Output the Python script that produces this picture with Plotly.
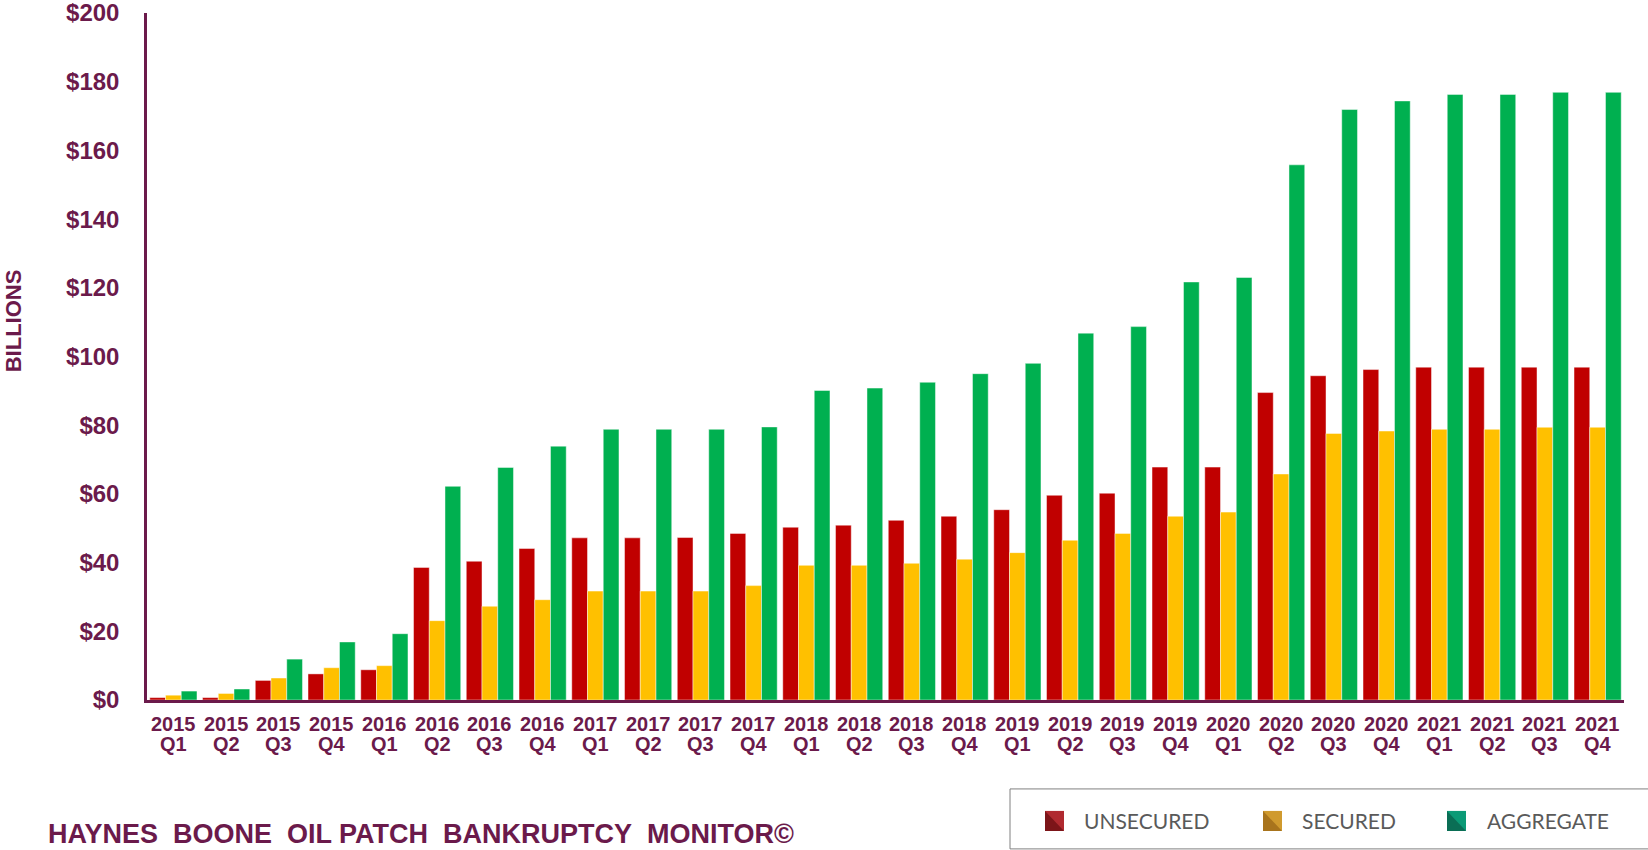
import plotly.graph_objects as go

years = ["2015"] * 4 + ["2016"] * 4 + ["2017"] * 4 + ["2018"] * 4 + ["2019"] * 4 + ["2020"] * 4 + ["2021"] * 4
quarters = ["Q1", "Q2", "Q3", "Q4"] * 7
categories = [f"{y} {q}" for y, q in zip(years, quarters)]

unsecured = [0.7, 0.7, 5.7, 7.6, 8.8, 38.6, 40.4, 44.1, 47.2, 47.2, 47.3, 48.5, 50.3, 50.9,
             52.3, 53.5, 55.4, 59.6, 60.2, 67.8, 67.8, 89.5, 94.4, 96.2, 96.9, 96.9, 96.9, 96.9]
secured = [1.4, 1.9, 6.4, 9.4, 10.0, 23.1, 27.3, 29.2, 31.7, 31.7, 31.7, 33.3, 39.2, 39.2,
           39.8, 41.0, 42.9, 46.5, 48.5, 53.5, 54.7, 65.8, 77.6, 78.3, 78.8, 78.8, 79.4, 79.4]
aggregate = [2.6, 3.2, 11.9, 16.9, 19.3, 62.2, 67.7, 73.9, 78.8, 78.8, 78.8, 79.5, 90.1, 90.8,
             92.5, 95.0, 98.0, 106.8, 108.7, 121.7, 123.0, 155.8, 171.9, 174.4, 176.3, 176.3, 176.9, 176.9]

series_names = ["UNSECURED", "SECURED", "AGGREGATE"]
y_ticks = list(range(0, 201, 20))

PURPLE = "#6b1a4b"
FONT = "Liberation Sans, Arial, sans-serif"
W, H = 1648, 850
L, R, T, B = 147, 24, 12.5, 150
PW, PH = W - L - R, H - T - B


def px(x):
    return (x - L) / PW


def py(y):
    return (H - B - y) / PH


fig = go.Figure()
for name, vals, col in zip(series_names, [unsecured, secured, aggregate],
                           ["#c00000", "#ffc000", "#00b050"]):
    fig.add_trace(go.Bar(
        x=categories, y=vals, name=name,
        marker=dict(color=col, line=dict(color="rgba(255,255,255,0.45)", width=1)),
        showlegend=False,
    ))

shapes = []
annotations = []

# two-line category labels (year / quarter)
for cat, yr, q in zip(categories, years, quarters):
    annotations.append(dict(xref="x", yref="paper", x=cat, y=py(724), xanchor="center",
                            yanchor="middle", showarrow=False, text=yr,
                            font=dict(family=FONT, size=20, color=PURPLE, weight="bold")))
    annotations.append(dict(xref="x", yref="paper", x=cat, y=py(744), xanchor="center",
                            yanchor="middle", showarrow=False, text=q,
                            font=dict(family=FONT, size=20, color=PURPLE, weight="bold")))

# custom legend box
shapes.append(dict(type="rect", xref="paper", yref="paper",
                   x0=px(1010), x1=px(1652), y0=py(849), y1=py(789),
                   line=dict(color="#808080", width=1), fillcolor="white", layer="above"))
legend_items = [
    ("UNSECURED", 1045, 1082, "#7c1519", "#b02a30"),
    ("SECURED", 1263, 1300, "#a8741d", "#d09a2e"),
    ("AGGREGATE", 1447, 1485, "#0a6e55", "#0b9a76"),
]
for text, mx, tx, dark, light in legend_items:
    x0, x1, y0, y1 = px(mx), px(mx + 19), py(831), py(811)
    shapes.append(dict(type="rect", xref="paper", yref="paper", x0=x0, x1=x1, y0=y0, y1=y1,
                       line=dict(width=0), fillcolor=light, layer="above"))
    shapes.append(dict(type="path", xref="paper", yref="paper",
                       path=f"M {x0},{y0} L {x0},{y1} L {x1},{y0} Z",
                       line=dict(width=0), fillcolor=dark, layer="above"))
    annotations.append(dict(xref="paper", yref="paper", x=px(tx), y=py(821),
                            xanchor="left", yanchor="middle", text=text, showarrow=False,
                            font=dict(family="Lato, 'Open Sans', sans-serif", size=21, color="#5a5a5a")))

annotations.append(dict(xref="paper", yref="paper", x=px(46), y=py(834), xanchor="left",
                        yanchor="middle", showarrow=False,
                        text="HAYNES\u00a0\u00a0BOONE\u00a0\u00a0OIL PATCH\u00a0\u00a0BANKRUPTCY\u00a0\u00a0MONITOR©",
                        font=dict(family=FONT, size=27, color=PURPLE, weight="bold")))
annotations.append(dict(xref="paper", yref="paper", x=px(13), y=py(321), xanchor="center",
                        yanchor="middle", showarrow=False, textangle=-90, text="BILLIONS",
                        font=dict(family=FONT, size=22, color=PURPLE, weight="bold")))

fig.update_layout(
    width=W, height=H,
    margin=dict(l=L, r=R, t=T, b=B, pad=0, autoexpand=False),
    paper_bgcolor="white", plot_bgcolor="white",
    barmode="group", bargap=0.105, bargroupgap=0,
    shapes=shapes, annotations=annotations,
    font=dict(family=FONT, color=PURPLE),
)
fig.update_xaxes(
    automargin=False, showticklabels=False,
    showline=True, linecolor=PURPLE, linewidth=2.5, showgrid=False, ticks="",
)
fig.update_yaxes(
    automargin=False,
    range=[0, 200], tickvals=y_ticks, ticktext=[f"${v}" for v in y_ticks],
    showline=True, linecolor=PURPLE, linewidth=2.5, showgrid=False, zeroline=False, ticks="",
    tickfont=dict(size=24, color=PURPLE, weight="bold"), ticklabelstandoff=20,
    ticklabeloverflow="allow",
)

fig.write_html(
    "out.html",
    config={"displayModeBar": False},
    post_script="document.body.style.margin='0px';document.body.style.overflow='hidden';",
)
